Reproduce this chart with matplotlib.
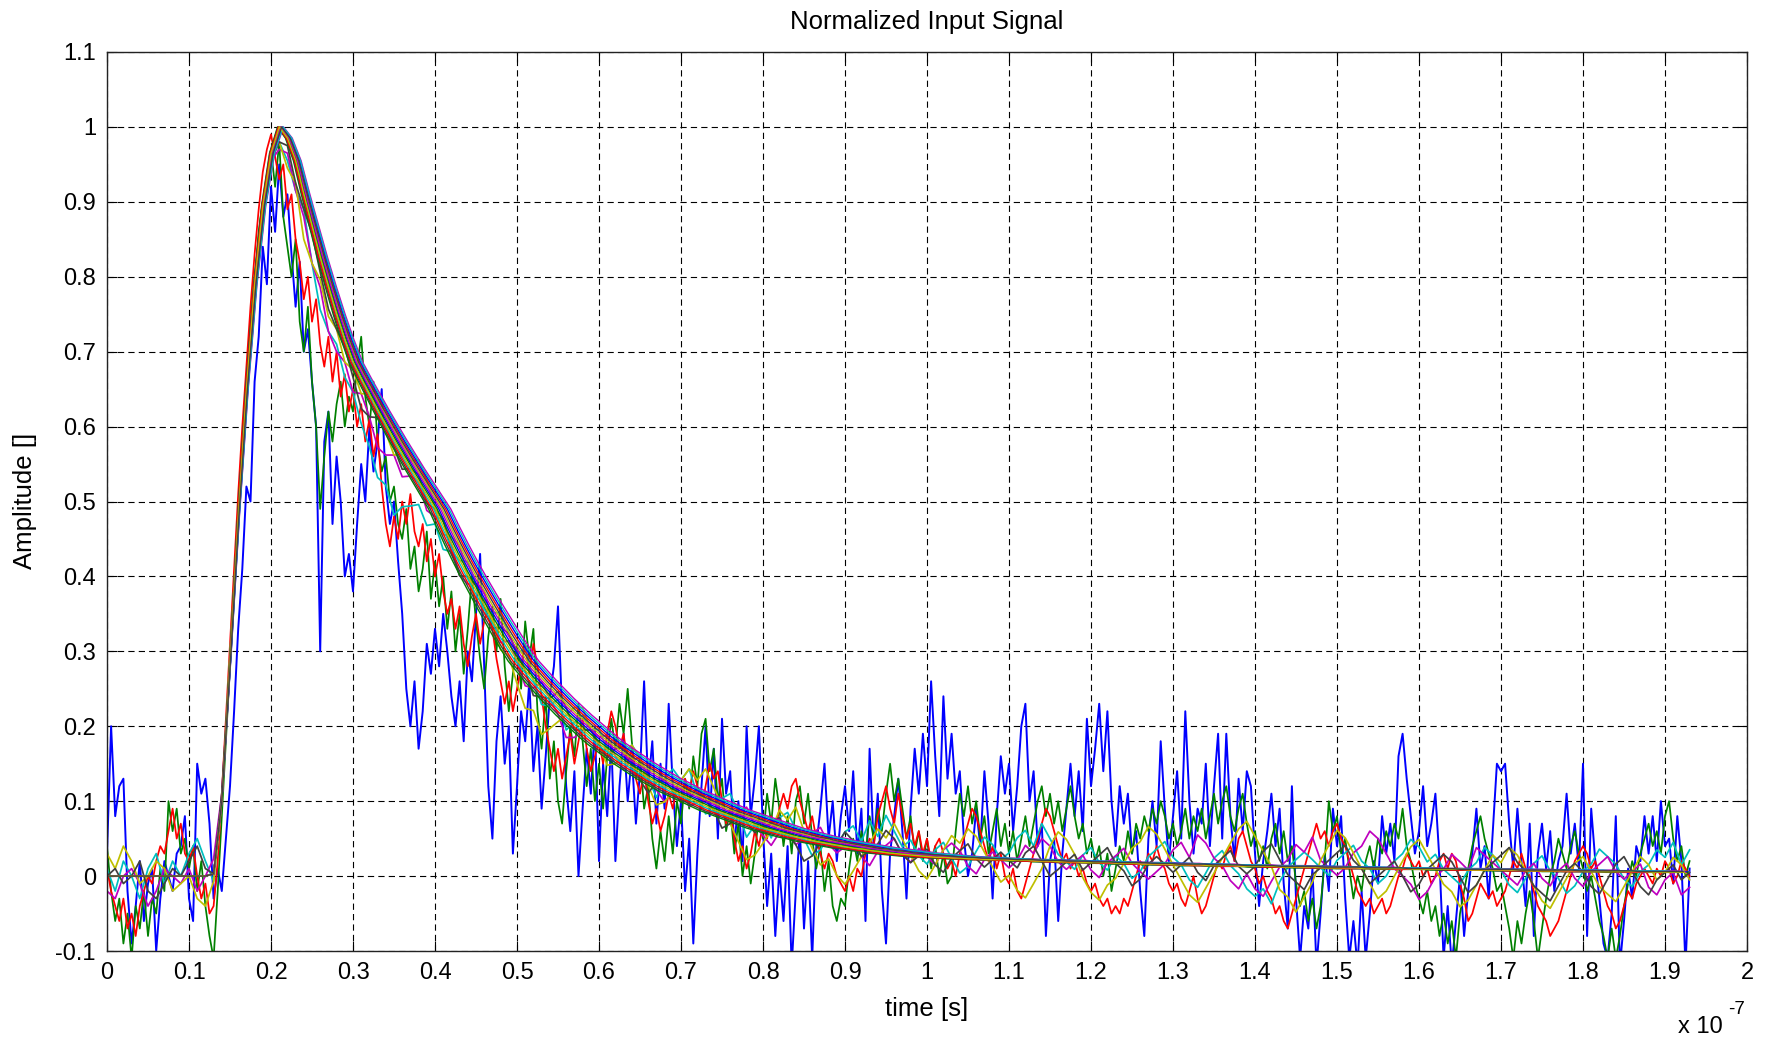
import numpy as np
import matplotlib
matplotlib.use("Agg")
import matplotlib.pyplot as plt

plt.rcParams['font.family'] = ['Liberation Sans', 'DejaVu Sans']
plt.rcParams['lines.scale_dashes'] = False

# time axis is in units of 1e-7 s
FINE_STEP = 0.005
COARSE_STEP = 0.01
T_END = 1.93
ONSET = 0.14

# noisiest acquisitions, amplitude x100, sampled every FINE_STEP
blue_trace = [
    3, 20, 8, 12, 13, -2, -9, -4, 2, -6, -1, 1, -10, -3, 2, 0, -2, 3, 4, 8,
    -3, -6, 15, 11, 13, 7, -3, 1, -2, 5, 12, 22, 33, 41, 52, 50, 66, 72, 84, 79,
    92, 86, 95, 88, 91, 83, 76, 82, 70, 73, 66, 60, 30, 58, 62, 47, 56, 50, 40, 43,
    38, 47, 55, 50, 60, 54, 58, 65, 52, 47, 50, 42, 35, 25, 20, 26, 17, 22, 31, 27,
    33, 28, 35, 30, 24, 20, 26, 18, 30, 26, 35, 43, 28, 12, 5, 18, 24, 15, 20, 3,
    12, 22, 18, 26, 14, 20, 9, 16, 24, 28, 36, 22, 12, 6, 14, 0, 9, 17, 11, 20,
    2, 15, 8, 18, 2, 12, 19, 10, 16, 7, 14, 26, 12, 18, 7, 15, 9, 23, 12, 4,
    10, -2, 5, -9, 3, 12, 20, 8, 17, 5, 21, 11, 14, 4, 10, 2, 20, 8, 13, 20,
    6, -4, 3, -8, 1, -6, 4, -12, -2, 6, -7, 2, -11, 4, 9, 15, 5, 10, 2, 8,
    12, 6, 14, 3, 9, -6, 17, 4, 11, -2, -9, 3, 8, 13, 6, -3, 9, 17, 11, 19,
    12, 26, 16, 8, 24, 13, 19, 11, 14, 5, 0, 3, 9, 4, 14, 7, -3, 8, 16, 11,
    15, 6, 12, 20, 23, 10, 14, 4, 7, -8, 2, 5, -6, 3, 9, 15, 8, 14, 6, 21,
    12, 17, 23, 14, 22, 10, 4, 12, 7, 11, 3, 6, -2, -8, 5, 10, 4, 18, 9, 2,
    8, 14, 5, 22, 10, 3, 9, 7, 15, 4, 12, 19, 5, 19, 8, 2, 13, 6, 14, 12,
    3, -4, 2, 6, 11, 4, 9, -1, -7, 12, -3, -11, -4, -7, 1, -12, -5, 3, -2, 9,
    4, 8, -3, -11, -6, -12, -2, -11, -5, 2, -1, 8, 3, 7, 2, 16, 19, 13, 8, 3,
    6, 12, 4, 7, 11, 2, -11, -4, -12, -6, 0, -8, -2, 3, 9, 1, 4, -3, 6, 15,
    14, 15, 7, 1, 9, 2, -4, 7, -8, 3, 7, 1, 6, -2, 2, 4, 11, 3, 7, 1,
    15, -8, 9, 2, -3, -9, -11, -5, 8, -12, -6, 1, -3, 4, 2, 8, 3, 8, 2, 10,
    4, 5, -1, 8, 2, -12, 1,
]

green_trace = [
    4, -2, -6, -3, -9, -5, -11, -4, -7, -2, -8, -3, -5, 1, -2, 10, 6, 9, 3, 5,
    1, 4, -2, 2, -4, -8, -11, -2, 8, 18, 28, 38, 48, 57, 65, 73, 79, 86, 90, 93,
    97, 92, 98, 88, 84, 80, 85, 74, 70, 76, 66, 60, 49, 56, 62, 58, 63, 66, 60, 64,
    62, 68, 72, 64, 60, 66, 58, 54, 56, 50, 52, 47, 45, 49, 41, 44, 38, 41, 46, 37,
    42, 36, 40, 33, 38, 30, 35, 27, 33, 40, 34, 29, 25, 32, 36, 30, 37, 28, 22, 27,
    31, 25, 34, 29, 33, 22, 17, 24, 13, 18, 10, 7, 14, 20, 16, 23, 18, 12, 17, 10,
    15, 9, 16, 21, 17, 23, 19, 25, 18, 13, 16, 9, 12, 5, 1, 6, 2, 8, 3, 10,
    7, 13, 9, 16, 12, 19, 21, 14, 17, 10, 13, 6, 9, 3, 7, 0, 4, -1, 3, 8,
    5, 11, 7, 13, 9, 4, 8, 3, 10, 12, 7, 11, 5, 1, 4, -2, 2, -4, -6, -3,
    -4, 1, 5, 2, 6, 3, 8, 5, 9, 6, 11, 15, 10, 13, 9, 5, 8, 3, 6, 2,
    5, 1, 4, 0, 3, -1, 0, 6, 11, 8, 12, 7, 10, 5, 8, 3, 6, 9, 4, 7,
    3, 6, 2, 5, 8, 4, 7, 10, 12, 8, 11, 7, 10, 6, 9, 12, 8, 5, 7, 3,
    5, 2, 4, 0, 3, -2, 1, 4, 2, 6, 3, 7, 5, 8, 6, 9, 7, 10, 8, 5,
    7, 4, 6, 9, 5, 8, 6, 9, 5, 8, 11, 7, 10, 12, 8, 6, 9, 11, 7, 4,
    6, 2, 4, 1, 5, 7, 3, 6, 2, 4, -1, -4, -2, -6, -3, -7, -4, 2, 10, 6,
    8, 3, 5, 1, -3, 0, -2, 2, 4, 1, 5, 3, 6, 4, 7, 5, 9, 4, 2, -1,
    -3, -5, -2, -6, -4, -8, -5, -9, -6, -11, -5, -2, 1, 4, 6, 8, 5, 3, 1, -2,
    -1, -4, -7, -11, -6, -9, -5, -2, -6, -11, -7, -3, 0, 2, 5, 3, 1, 4, 6, 3,
    1, -2, 0, -3, -6, -8, -11, -7, -11, -8, -4, -1, 2, 0, 3, 5, 7, 4, 6, 3,
    8, 10, 5, 2, 4, 0, 2,
]

red_trace = [
    1, -2, -4, -6, -3, -7, -5, -8, -4, -2, 0, -1, 2, 4, 3, 6, 9, 5, 7, 3,
    2, 4, 0, -3, -1, -5, -4, 2, 11, 21, 31, 41, 51, 60, 68, 76, 83, 89, 94, 97,
    99, 96, 93, 95, 89, 91, 85, 82, 77, 80, 74, 77, 71, 68, 72, 66, 70, 64, 67, 62,
    65, 60, 63, 58, 61, 56, 59, 52, 47, 44, 48, 45, 50, 47, 51, 46, 44, 47, 42, 45,
    40, 43, 38, 35, 37, 33, 36, 31, 28, 32, 35, 31, 34, 36, 33, 29, 26, 23, 26, 22,
    25, 28, 31, 27, 31, 28, 24, 20, 17, 14, 17, 13, 16, 19, 15, 18, 21, 17, 14, 16,
    18, 15, 19, 22, 20, 17, 19, 15, 17, 13, 11, 14, 10, 7, 9, 6, 8, 11, 9, 12,
    10, 13, 11, 14, 12, 9, 12, 15, 13, 14, 10, 7, 9, 5, 2, 4, 1, 3, 6, 4,
    7, 5, 8, 6, 9, 11, 9, 12, 13, 10, 8, 6, 8, 5, 3, 1, 3, 2, 0, -1,
    -2, 0, -2, 1, 0, 3, 5, 4, 8, 10, 12, 9, 7, 11, 8, 5, 7, 4, 6, 3,
    5, 2, 4, 5, 3, 1, 2, 0, 3, 5, 7, 9, 8, 6, 4, 2, 4, 1, 3, 0,
    -1, 1, -2, -3, -1, 1, 3, 5, 7, 9, 8, 6, 4, 2, 3, 1, 2, 0, 1, -1,
    -2, -1, -3, -4, -3, -5, -4, -5, -3, -4, -2, 0, 2, 1, 3, 2, 4, 2, 1, -1,
    -2, -1, -3, -4, -2, 0, -3, -5, -4, -2, 0, 2, 1, 3, 4, 2, 5, 6, 4, 2,
    1, -1, 0, -2, -3, -5, -4, -6, -7, -5, -3, -1, 1, 3, 5, 7, 5, 6, 4, 6,
    7, 5, 4, 2, 0, -2, -3, -4, -3, -5, -4, -3, -5, -4, -2, 0, 1, 3, 2, 1,
    2, 0, 1, -1, 0, 2, 3, 1, 3, 2, -1, -3, -6, -5, -3, -1, -2, -3, -2, -4,
    -3, -2, 0, 2, 1, 3, 1, 0, -2, -4, -5, -6, -8, -7, -6, -4, -2, 0, 2, 3,
    4, 3, 1, 2, 0, -2, -4, -5, -7, -6, -4, -2, -3, -1, 0, 1, 0, -1, 1, 0,
    2, 1, -1, 0, 2, 1, 0,
]

# averaged pulse shape, amplitude x1000, sampled every COARSE_STEP
pulse_mean = [
    0, 0, 0, 0, 0, 0, 0, 0, 0, 0, 0, 0, 0,
    3, 100, 285, 480, 650, 790, 895, 965, 1000,
    985, 955, 910, 868, 826, 787, 750, 716, 686,
    664, 643, 622, 602, 582, 563, 544, 526, 508, 490,
    466, 443, 421, 400, 380, 360, 341, 322, 304, 287,
    274, 261, 249, 237, 226, 215, 205, 195, 185, 176,
    168, 160, 152, 145, 138, 131, 125, 119, 113, 108,
    103, 98, 93, 88, 84, 80, 76, 72, 68, 64,
    61, 58, 55, 52, 50, 47, 45, 43, 41, 39,
    37, 36, 34, 33, 31, 30, 29, 28, 27, 26,
    25, 25, 24, 24, 23, 23, 22, 22, 22, 21,
    21, 21, 20, 20, 20, 19, 19, 19, 18, 18,
    18, 18, 17, 17, 17, 16, 16, 16, 16, 15,
    15, 15, 15, 14, 14, 14, 14, 13, 13, 13,
    13, 13, 12, 12, 12, 12, 12, 11, 11, 11,
    11, 11, 10, 10, 10, 10, 10, 10, 9, 9,
    9, 9, 9, 9, 9, 8, 8, 8, 8, 8,
    8, 8, 7, 7, 7, 7, 7, 7, 7, 6,
    6, 6, 6, 6, 6, 6, 6, 5, 5, 5,
    5, 5, 5,
]

# moderately noisy acquisitions: deviation from pulse_mean, amplitude x100
cyan_dev = [
    1, -2, 2, 0, -3, 1, 3, -1, 2, 0,
    3, 5, 2, -1, 0, 1, 0, -1, 1, 0,
    -1, -2, -3, -4, -2, -5, -7, -6, -4, -5,
    -4, -6, -7, -9, -8, -10, -7, -5, -3, -4,
    -2, -3, -1, 0, 2, 1, -1, 1, 3, 2,
    1, 3, 0, -2, -1, 1, -2, 0, 2, 1,
    2, 0, -1, 1, 3, 2, 0, -2, 1, 3,
    2, 4, 1, -1, 0, 2, 3, 1, -2, 0,
    1, -1, 2, 3, 1, 0, -2, -1, 1, 0,
    2, 3, 1, 4, 2, 5, 3, 1, 2, 0,
    -1, 1, 2, 0, -2, -1, 1, 3, 2, 0,
    1, 3, 4, 2, 5, 3, 1, 0, -1, 1,
    2, 0, -1, 1, 0, -2, -1, 1, 2, 3,
    1, 0, -2, -3, -1, 1, 2, 0, -1, -3,
    -4, -3, -5, -2, 0, 1, 2, 1, 0, -1,
    1, 2, 3, 1, 0, -2, -1, 1, 2, 4,
    3, 1, 2, 0, -1, -2, 0, 1, 3, 2,
    0, -2, -3, -1, 1, 2, 0, -1, -3, -2,
    0, 1, 3, 2, 1, -1, -2, 0, 1, 3,
    2, 4, 1, 3,
]

magenta_dev = [
    -2, -3, 0, 1, -1, -4, -2, 1, 0, -1,
    1, -2, 0, 2, 1, 0, 0, 1, 0, -1,
    -1, -3, -2, -4, -3, -5, -4, -6, -5, -3,
    -4, -2, -3, -5, -4, -2, -3, -1, 0, -2,
    -1, 1, 0, -2, -1, 1, 2, 0, -1, 1,
    0, -2, -1, 1, 0, -1, -3, -2, 0, 1,
    1, 2, 0, -1, 1, 2, 0, -1, -2, 0,
    1, -1, 0, 2, 1, 0, -1, 1, 2, 0,
    -1, -2, 0, 1, -1, 0, 1, 2, 0, -1,
    0, 1, -1, -2, 0, 1, 2, 0, -1, 1,
    0, -1, 1, 2, 1, -1, -2, 0, 1, 0,
    -1, 0, 2, 1, 3, 2, 0, -1, 0, 1,
    -1, -2, 0, 1, 2, 0, -1, -2, -1, 0,
    2, 3, 1, 4, 3, 1, 0, -2, -3, -1,
    -3, -4, -2, 0, 1, 3, 2, 4, 1, 0,
    -1, 0, 2, 3, 5, 4, 2, 0, -1, -2,
    -4, -3, -1, 0, 2, 1, 0, 3, 2, 1,
    0, -1, -2, 0, 1, -1, -2, 0, 1, -1,
    -2, 0, 1, 2, 0, -1, 0, 1, -2, -3,
    -1, 0, -3, -2,
]

yellow_dev = [
    3, 1, 4, 2, -1, 0, 2, 1, -2, -1,
    0, -3, -4, -1, 0, 1, 0, 0, 0, 0,
    0, -2, -4, -3, -6, -5, -3, -4, -2, -3,
    -1, -2, 0, 1, -1, -2, 0, 1, 3, 2,
    0, -1, 1, 2, 0, -1, 1, 0, -2, -1,
    -3, -5, -4, -6, -4, -2, 0, 2, 3, 1,
    0, -2, -1, 1, 3, 2, -1, -3, -2, 0,
    2, 4, 3, 5, 3, 1, -1, -3, -5, -4,
    -2, 0, 3, 2, 4, 1, -1, -3, -2, -4,
    -5, -3, -1, 1, 3, 2, 4, 2, 0, -2,
    -3, -1, 1, 3, 2, 4, 3, 1, -1, -3,
    -2, -4, -5, -3, -1, 2, 4, 3, 1, -2,
    -4, -5, -3, -2, 0, 2, 3, 5, 4, 2,
    0, -2, -4, -5, -3, -1, 1, 3, 5, 6,
    4, 2, 0, -3, -4, -6, -4, -2, 1, 3,
    5, 4, 2, 0, -2, -4, -3, -1, 1, 3,
    4, 2, 0, -2, -3, -5, -4, -2, 0, 2,
    1, 3, 2, 0, -2, -4, -5, -3, -1, 1,
    2, 0, -2, -3, -4, -2, 0, 2, 1, -1,
    0, 2, 1, -1,
]

gray_dev = [
    0, 1, -1, 0, 2, -2, -3, -1, 1, 0,
    2, 4, 1, 0, 1, 0, 0, 0, 0, 0,
    -1, -2, -1, -3, -2, -1, -2, -3, -2, -1,
    -2, -4, -3, -1, 0, -1, -2, 0, 1, -1,
    0, 1, -1, -2, 0, 1, 0, -1, 1, 2,
    1, 0, -2, -1, 0, 2, 1, -1, 0, 1,
    0, -1, 1, 2, 1, -1, -2, 0, 1, 0,
    -1, 0, 2, 1, 0, -2, -1, 1, 0, -1,
    0, 1, 2, 0, -1, -3, -2, 0, 1, 0,
    2, 1, -1, 0, 1, 3, 2, 0, -1, 0,
    1, -1, -2, 0, 1, 2, 0, -1, 0, 1,
    0, -1, 1, 2, 0, -2, -1, 0, 1, -1,
    0, 1, 2, 0, -1, -3, -2, 0, 1, 0,
    -1, 0, 1, -1, -2, 0, 1, 2, 0, -1,
    0, 2, 3, 1, -1, -2, -3, -1, 0, 1,
    2, 3, 1, 0, -2, -1, 0, 1, -1, -3,
    -2, 0, 1, 2, 1, -1, -3, -2, 0, 1,
    2, 3, 1, 0, -2, -3, -4, -2, 0, 1,
    0, -2, -3, -1, 1, 2, 0, -2, -3, -1,
    0, 1, -1, 0,
]

# time-scale factors of the quiet acquisitions (pulse width relative to mean)
quiet_scales = [1.018, 0.970, 1.050, 0.994, 1.074, 1.034, 0.978,
                1.058, 1.010, 0.986, 1.066, 1.026, 1.002, 1.042]

line_colors = [(0, 0, 1), (0, 0.5, 0), (1, 0, 0), (0, 0.75, 0.75),
               (0.75, 0, 0.75), (0.75, 0.75, 0), (0.25, 0.25, 0.25)]

x_ticks = [0, 0.1, 0.2, 0.3, 0.4, 0.5, 0.6, 0.7, 0.8, 0.9, 1.0,
           1.1, 1.2, 1.3, 1.4, 1.5, 1.6, 1.7, 1.8, 1.9, 2.0]
y_ticks = [-0.1, 0, 0.1, 0.2, 0.3, 0.4, 0.5, 0.6, 0.7, 0.8, 0.9, 1.0, 1.1]

W, H = 1766, 1041
fig = plt.figure(figsize=(W / 100, H / 100), dpi=100)
ax = fig.add_axes([107 / W, 90 / H, 1640 / W, 899 / H])

t_fine = np.arange(len(blue_trace)) * FINE_STEP
t_coarse = np.arange(len(pulse_mean)) * COARSE_STEP
mean = np.array(pulse_mean) / 1000.0

lw = 1.25
ax.plot(t_fine * 1e-7, np.array(blue_trace) / 100.0, color=line_colors[0], lw=1.4)
ax.plot(t_fine * 1e-7, np.array(green_trace) / 100.0, color=line_colors[1], lw=lw)
ax.plot(t_fine * 1e-7, np.array(red_trace) / 100.0, color=line_colors[2], lw=lw)
for i, dev in enumerate([cyan_dev, magenta_dev, yellow_dev, gray_dev]):
    ax.plot(t_coarse * 1e-7, mean + np.array(dev) / 100.0,
            color=line_colors[3 + i], lw=lw)
for k, s in enumerate(quiet_scales):
    tt = np.where(t_coarse > ONSET, ONSET + (t_coarse - ONSET) * s, t_coarse)
    keep = tt <= T_END + 1e-9
    ax.plot(tt[keep] * 1e-7, mean[keep], color=line_colors[k % 7], lw=1.0)

ax.set_xlim(0, 2e-7)
ax.set_ylim(-0.1, 1.1)
ax.set_xticks([v * 1e-7 for v in x_ticks])
ax.set_xticklabels([f"{v:g}" for v in x_ticks])
ax.set_yticks(y_ticks)
ax.set_yticklabels([f"{v:g}" for v in y_ticks])

ax.grid(True, color='k', linestyle=(0, (4.5, 3.0)), linewidth=0.8)
ax.tick_params(direction='in', length=7, width=0.8, top=True, right=True,
               labelsize=17, pad=8, colors='k')
for sp in ax.spines.values():
    sp.set_linewidth(1.0)
    sp.set_color('#222222')

fig.text(927 / W, 1 - 22 / H, "Normalized Input Signal", ha='center',
         va='center', fontsize=18.5)
fig.text(927 / W, 1 - 1009 / H, "time [s]", ha='center', va='center',
         fontsize=18.5)
fig.text(25 / W, 1 - 501 / H, "Amplitude []", ha='center', va='center',
         rotation=90, fontsize=18.5)
fig.text(1678 / W, 1 - 1027 / H, "x 10", ha='left', va='center', fontsize=17)
fig.text(1728 / W, 1 - 1009 / H, "-7", ha='left', va='center', fontsize=13.5)

fig.savefig("out.png", dpi=100)
